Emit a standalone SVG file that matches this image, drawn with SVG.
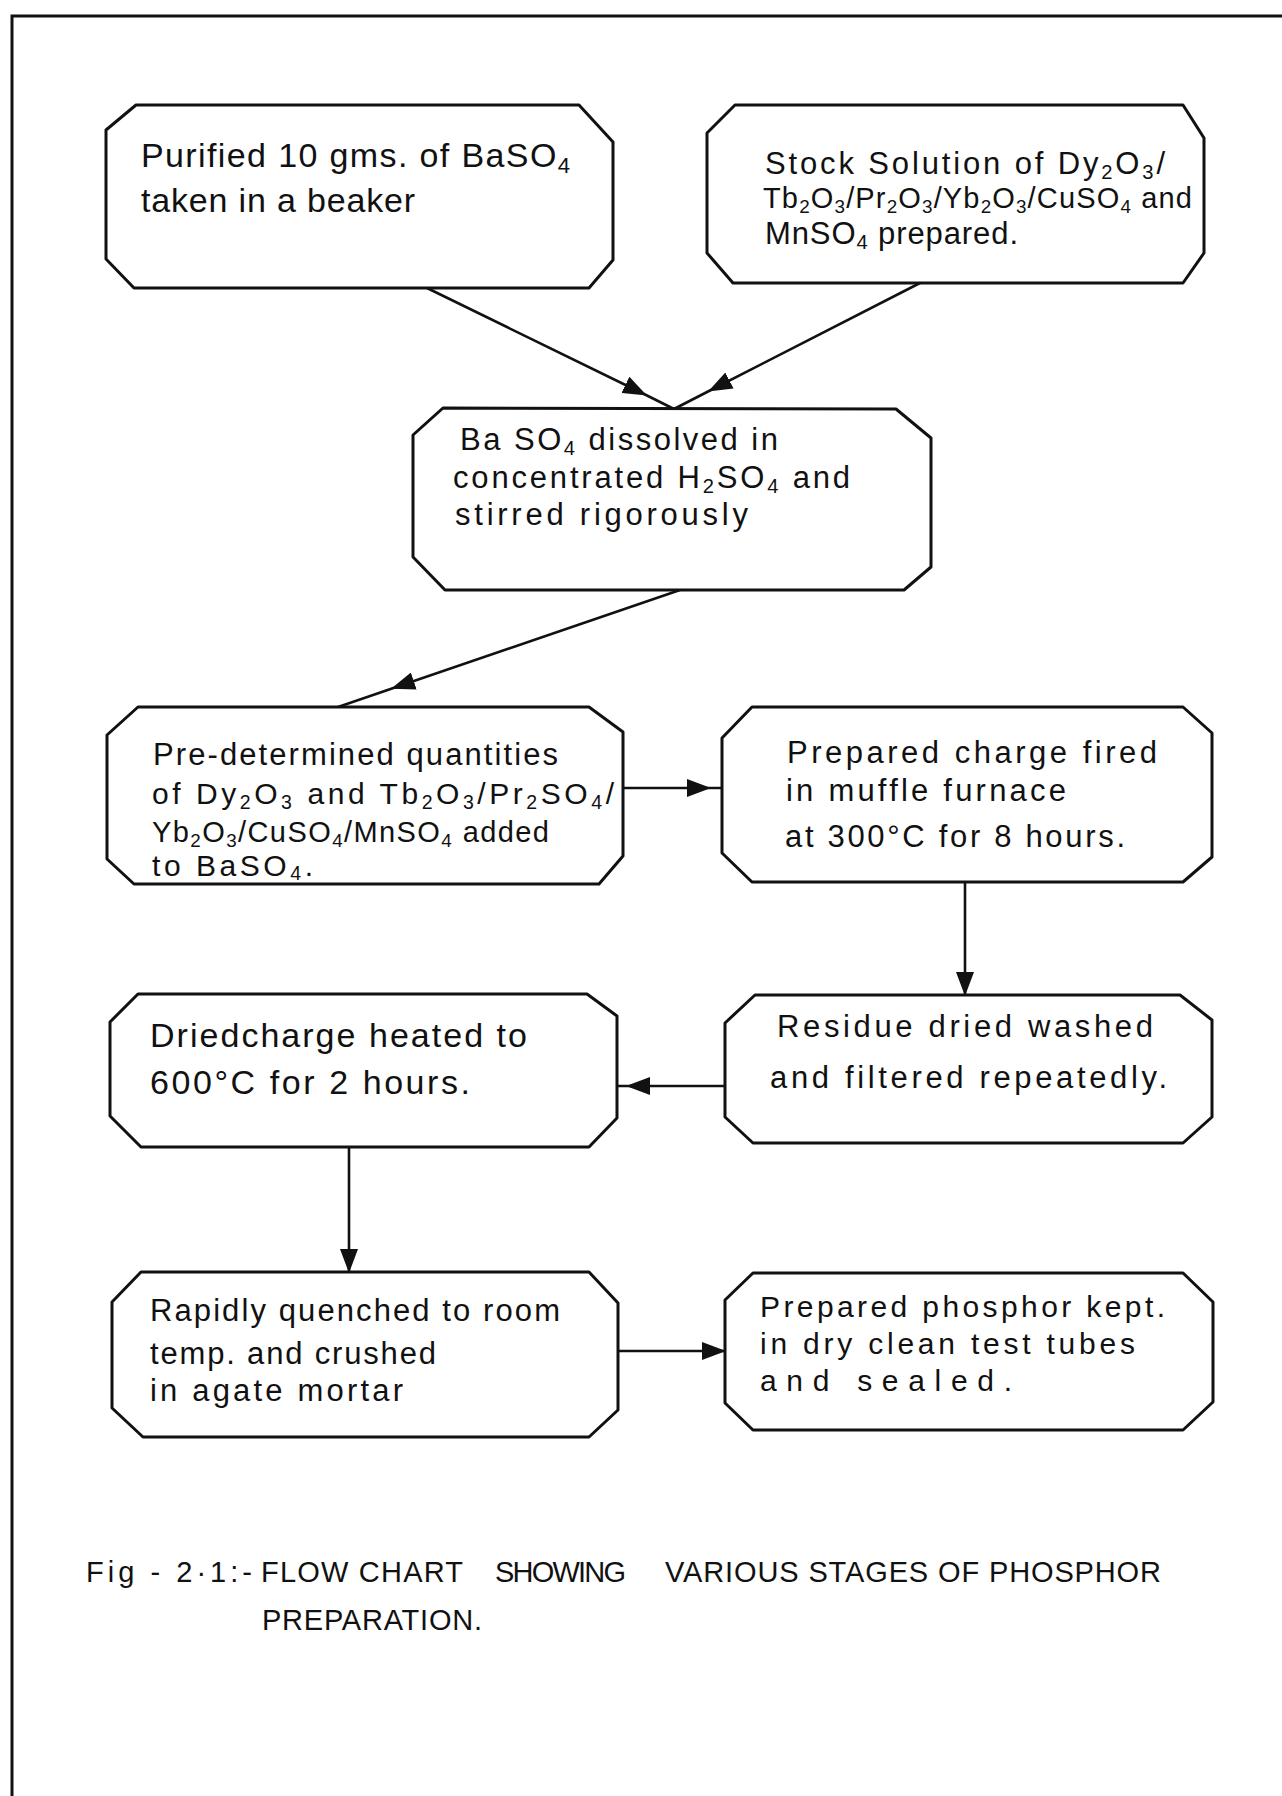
<svg xmlns="http://www.w3.org/2000/svg" width="1282" height="1796" viewBox="0 0 1282 1796">
<style>
.box{fill:#fff;stroke:#111;stroke-width:3;stroke-linejoin:round}
.con{fill:none;stroke:#111;stroke-width:2.6}
.t{font-family:"Liberation Sans",Arial,sans-serif;fill:#111}
.s{font-size:0.65em}
.frame{fill:none;stroke:#111;stroke-width:3}
</style>
<defs>
<marker id="ah" markerUnits="userSpaceOnUse" markerWidth="24" markerHeight="18" viewBox="0 0 24 18" refX="23" refY="9" orient="auto">
<path d="M0,0 L24,9 L0,18 z" fill="#111"/>
</marker>
</defs>
<rect x="0" y="0" width="1282" height="1796" fill="#fff"/>
<path class="frame" d="M12,1796 L12,16 L1282,16"/>

<g id="connectors">
<path class="con" d="M427,288 L646,395 L674,409" marker-mid="url(#ah)"/>
<path class="con" d="M920,283 L709,391 L674,409" marker-mid="url(#ah)"/>
<path class="con" d="M680,590 L392,688.5 L338,707" marker-mid="url(#ah)"/>
<path class="con" d="M623,788 L710,788 L722,788" marker-mid="url(#ah)"/>
<path class="con" d="M965,882 L965,995" marker-end="url(#ah)"/>
<path class="con" d="M725,1086 L627,1086 L617,1086" marker-mid="url(#ah)"/>
<path class="con" d="M349,1147 L349,1272" marker-end="url(#ah)"/>
<path class="con" d="M618,1351 L725,1351" marker-end="url(#ah)"/>
</g>

<g id="n1">
<polygon class="box" points="136,105 579,105 613,142 613,260 589,288 134,288 106,259 106,130"/>
<text class="t" x="141" y="167" font-size="34" textLength="429" lengthAdjust="spacing">Purified 10 gms. of BaSO<tspan class="s" dy="6">4</tspan></text>
<text class="t" x="141" y="212" font-size="34" textLength="274" lengthAdjust="spacing">taken in a beaker</text>
</g>

<g id="n2">
<polygon class="box" points="735,105 1183,105 1204,138 1204,253 1183,283 733,283 707,253 707,133"/>
<text class="t" x="765" y="174" font-size="31" textLength="400" lengthAdjust="spacing">Stock Solution of Dy<tspan class="s" dy="5">2</tspan><tspan dy="-5">O</tspan><tspan class="s" dy="5">3</tspan><tspan dy="-5">/</tspan></text>
<text class="t" x="763" y="208" font-size="29" textLength="429" lengthAdjust="spacing">Tb<tspan class="s" dy="5">2</tspan><tspan dy="-5">O</tspan><tspan class="s" dy="5">3</tspan><tspan dy="-5">/Pr</tspan><tspan class="s" dy="5">2</tspan><tspan dy="-5">O</tspan><tspan class="s" dy="5">3</tspan><tspan dy="-5">/Yb</tspan><tspan class="s" dy="5">2</tspan><tspan dy="-5">O</tspan><tspan class="s" dy="5">3</tspan><tspan dy="-5">/CuSO</tspan><tspan class="s" dy="5">4</tspan><tspan dy="-5"> and</tspan></text>
<text class="t" x="765" y="244" font-size="31" textLength="253" lengthAdjust="spacing">MnSO<tspan class="s" dy="5">4</tspan><tspan dy="-5"> prepared.</tspan></text>
</g>

<g id="n3">
<polygon class="box" points="443,408 896,409 931,438 931,567 904,590 445,590 413,557 413,435"/>
<text class="t" x="460" y="450" font-size="31" textLength="318" lengthAdjust="spacing">Ba SO<tspan class="s" dy="5">4</tspan><tspan dy="-5"> dissolved in</tspan></text>
<text class="t" x="453" y="488" font-size="31" textLength="397" lengthAdjust="spacing">concentrated H<tspan class="s" dy="5">2</tspan><tspan dy="-5">SO</tspan><tspan class="s" dy="5">4</tspan><tspan dy="-5"> and</tspan></text>
<text class="t" x="455" y="525" font-size="31" textLength="293" lengthAdjust="spacing">stirred rigorously</text>
</g>

<g id="n4">
<polygon class="box" points="138,707 589,707 623,732 623,856 599,884 134,884 107,859 107,735"/>
<text class="t" x="153" y="765" font-size="31" textLength="405" lengthAdjust="spacing">Pre-determined quantities</text>
<text class="t" x="152" y="804" font-size="30" textLength="462" lengthAdjust="spacing">of Dy<tspan class="s" dy="5">2</tspan><tspan dy="-5">O</tspan><tspan class="s" dy="5">3</tspan><tspan dy="-5"> and Tb</tspan><tspan class="s" dy="5">2</tspan><tspan dy="-5">O</tspan><tspan class="s" dy="5">3</tspan><tspan dy="-5">/Pr</tspan><tspan class="s" dy="5">2</tspan><tspan dy="-5">SO</tspan><tspan class="s" dy="5">4</tspan><tspan dy="-5">/</tspan></text>
<text class="t" x="152" y="842" font-size="29" textLength="397" lengthAdjust="spacing">Yb<tspan class="s" dy="5">2</tspan><tspan dy="-5">O</tspan><tspan class="s" dy="5">3</tspan><tspan dy="-5">/CuSO</tspan><tspan class="s" dy="5">4</tspan><tspan dy="-5">/MnSO</tspan><tspan class="s" dy="5">4</tspan><tspan dy="-5"> added</tspan></text>
<text class="t" x="152" y="876" font-size="30" textLength="161" lengthAdjust="spacing">to BaSO<tspan class="s" dy="4">4</tspan><tspan dy="-4">.</tspan></text>
</g>

<g id="n5">
<polygon class="box" points="752,707 1183,707 1212,733 1212,857 1183,882 752,882 722,853 722,738"/>
<text class="t" x="787" y="763" font-size="31" textLength="370" lengthAdjust="spacing">Prepared  charge fired</text>
<text class="t" x="786" y="801" font-size="31" textLength="280" lengthAdjust="spacing">in muffle furnace</text>
<text class="t" x="785" y="847" font-size="31" textLength="340" lengthAdjust="spacing">at 300°C for 8 hours.</text>
</g>

<g id="n6">
<polygon class="box" points="755,995 1180,995 1212,1020 1212,1117 1183,1143 753,1143 725,1117 725,1023"/>
<text class="t" x="777" y="1037" font-size="31" textLength="376" lengthAdjust="spacing">Residue dried washed</text>
<text class="t" x="770" y="1088" font-size="31" textLength="397" lengthAdjust="spacing">and filtered repeatedly.</text>
</g>

<g id="n7">
<polygon class="box" points="138,994 587,994 617,1016 617,1118 589,1147 141,1147 110,1116 110,1022"/>
<text class="t" x="150" y="1047" font-size="34" textLength="377" lengthAdjust="spacing">Driedcharge heated to</text>
<text class="t" x="150" y="1094" font-size="34" textLength="320" lengthAdjust="spacing">600°C for 2 hours.</text>
</g>

<g id="n8">
<polygon class="box" points="141,1272 589,1272 618,1303 618,1410 589,1437 143,1437 112,1408 112,1302"/>
<text class="t" x="150" y="1321" font-size="31" textLength="410" lengthAdjust="spacing">Rapidly quenched to room</text>
<text class="t" x="150" y="1364" font-size="31" textLength="286" lengthAdjust="spacing">temp. and crushed</text>
<text class="t" x="150" y="1401" font-size="31" textLength="253" lengthAdjust="spacing">in agate mortar</text>
</g>

<g id="n9">
<polygon class="box" points="753,1273 1183,1273 1213,1302 1213,1402 1183,1430 753,1430 725,1403 725,1300"/>
<text class="t" x="760" y="1317" font-size="30" textLength="405" lengthAdjust="spacing">Prepared phosphor kept.</text>
<text class="t" x="760" y="1354" font-size="30" textLength="375" lengthAdjust="spacing">in dry clean test tubes</text>
<text class="t" x="760" y="1391" font-size="30" textLength="252" lengthAdjust="spacing">and  sealed.</text>
</g>

<g id="caption">
<text class="t" x="86" y="1582" font-size="29" textLength="166" lengthAdjust="spacing">Fig - 2·1:-</text>
<text class="t" x="261" y="1582" font-size="29" textLength="202" lengthAdjust="spacing">FLOW CHART</text>
<text class="t" x="495" y="1582" font-size="29" textLength="131" lengthAdjust="spacing">SHOWING</text>
<text class="t" x="665" y="1582" font-size="29" textLength="496" lengthAdjust="spacing">VARIOUS STAGES OF PHOSPHOR</text>
<text class="t" x="262" y="1630" font-size="29" textLength="220" lengthAdjust="spacing">PREPARATION.</text>
</g>
</svg>
